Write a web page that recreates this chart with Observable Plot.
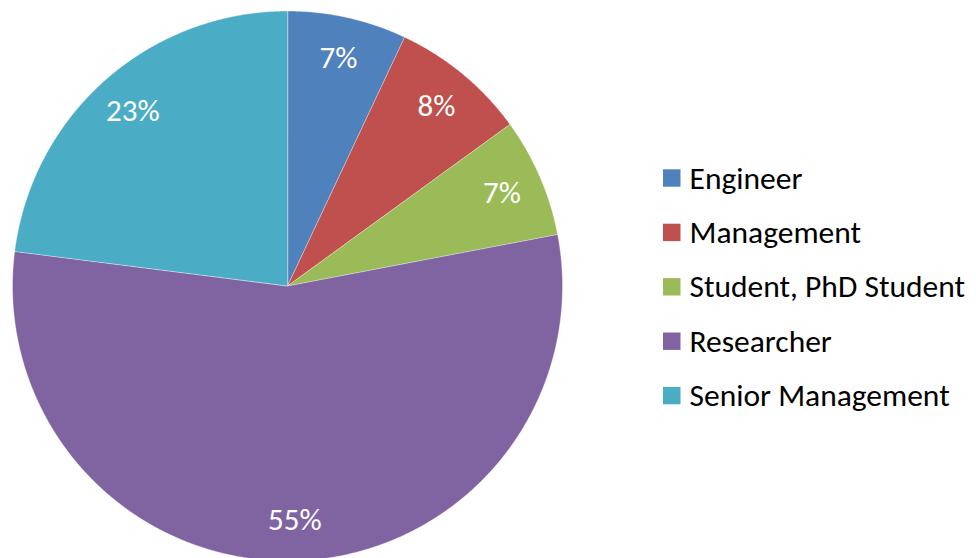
<!DOCTYPE html>
<html><head><meta charset="utf-8">
<script src="https://cdn.jsdelivr.net/npm/d3@7"></script>
<script src="https://cdn.jsdelivr.net/npm/@observablehq/plot@0.6"></script>
<style>body{margin:0;background:#fff;overflow:hidden}</style>
</head><body><div id="chart"></div>
<script>
const categories = ["Engineer", "Management", "Student, PhD Student", "Researcher", "Senior Management"];
const values = [7, 8, 7, 55, 23];
const colors = ["#4F81BD", "#C0504D", "#9BBB59", "#8064A2", "#4BACC6"];

const W = 976, H = 558, cx = 287, cy = 285.5, R = 275;
const font = "Calibri, Carlito, 'Open Sans', sans-serif";
const px = v => (v - cx) / R;      // pixel x -> data
const py = v => (cy - v) / R;      // pixel y -> data

const total = d3.sum(values);
let acc = 0;
const slices = categories.map((c, i) => {
  const a0 = acc / total * 2 * Math.PI;
  acc += values[i];
  const a1 = acc / total * 2 * Math.PI;
  return {category: c, value: values[i], a0, a1, mid: (a0 + a1) / 2};
});
const pts = [];
for (const s of slices) {
  pts.push({category: s.category, x: 0, y: 0});
  const n = Math.max(2, Math.ceil((s.a1 - s.a0) / (Math.PI / 720)));
  for (let k = 0; k <= n; k++) {
    const a = s.a0 + (s.a1 - s.a0) * k / n;
    pts.push({category: s.category, x: Math.sin(a), y: Math.cos(a)});
  }
}
const legend = categories.map((c, i) => ({category: c, i}));
const legY = i => 178 + i * 54.4;

const chart = Plot.plot({
  width: W, height: H,
  margin: 0,
  x: {domain: [px(0), px(W)], range: [0, W], axis: null},
  y: {domain: [py(H), py(0)], range: [H, 0], axis: null},
  color: {domain: categories, range: colors},
  style: {fontFamily: font, background: "white"},
  marks: [
    Plot.line(pts, {x: "x", y: "y", z: "category", fill: "category", stroke: "white", strokeOpacity: 0.6, strokeWidth: 0.6, curve: "linear-closed"}),
    Plot.text(slices, {
      x: d => 0.85 * Math.sin(d.mid), y: d => 0.85 * Math.cos(d.mid),
      text: d => d.value + "%", fill: "white", fontSize: 31, fontFamily: font
    }),
    Plot.rect(legend, {
      x1: () => px(663), x2: () => px(680.5),
      y1: d => py(legY(d.i) - 8.7), y2: d => py(legY(d.i) + 8.7),
      fill: "category"
    }),
    Plot.text(legend, {
      x: () => px(689), y: d => py(legY(d.i)), text: "category",
      textAnchor: "start", lineAnchor: "middle", fill: "black", fontSize: 31.5, fontFamily: font
    })
  ]
});
document.getElementById("chart").append(chart);
</script>
</body></html>
